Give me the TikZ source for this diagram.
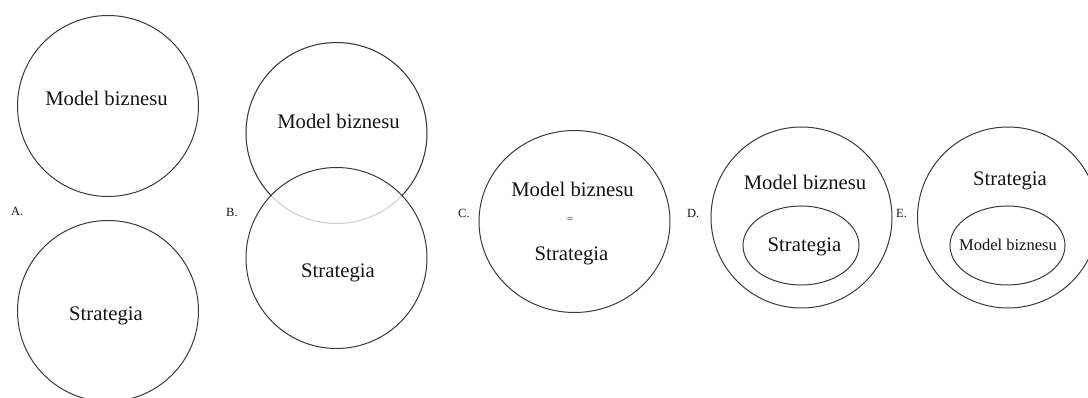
\documentclass[tikz,border=0pt]{standalone}
\usepackage{fontspec}
\setmainfont{Liberation Serif}
\usetikzlibrary{shapes.geometric}
\definecolor{ringcol}{HTML}{3A3A3A}
\definecolor{fadecol}{HTML}{CFCFCF}
\definecolor{inkcol}{HTML}{141414}
\begin{document}
\begin{tikzpicture}[x=1pt,y=-1pt,
  ring/.style={circle,draw=ringcol,line width=1pt,inner sep=0pt,minimum size=181pt},
  oval/.style={ellipse,draw=ringcol,line width=1pt,inner sep=0pt},
  big/.style={text=inkcol,anchor=base,inner sep=0pt,font=\fontsize{20.7}{24}\selectfont},
  mid/.style={text=inkcol,anchor=base,inner sep=0pt,font=\fontsize{16.5}{19}\selectfont},
  tag/.style={text=inkcol,anchor=base west,inner sep=0pt,font=\fontsize{12.5}{14}\selectfont},
  eq/.style={text=inkcol,inner sep=0pt,font=\fontsize{11}{12}\selectfont}]
\useasboundingbox[fill=white] (0,0) rectangle (1088,398);

% A: two separate circles
\node[ring] (a1) at (108,106) {};
\node[ring] (a2) at (108,311) {};
\node[big] (a1t) at (106.5,106) {Model biznesu};
\node[big] (a2t) at (106,320) {Strategia};
\node[tag] (al) at (11,216) {A.};

% B: overlapping circles, hidden arc of the upper one drawn faint
\node[ring,draw=fadecol] (b1) at (336.5,133) {};
\begin{scope}[even odd rule]
  \clip (0,0) rectangle (1088,398) (336.5,258) circle[radius=90.5];
  \draw[ringcol,line width=1pt] (b1.center) circle[radius=90.5];
\end{scope}
\node[ring] (b2) at (336.5,258) {};
\node[big] (b1t) at (338.5,129) {Model biznesu};
\node[big] (b2t) at (338,278) {Strategia};
\node[tag] (bl) at (226,217) {B.};

% C: one shape for both
\node[oval,minimum width=191pt,minimum height=182pt] (c1) at (574.5,221.5) {};
\node[big] (c1t) at (572.5,197) {Model biznesu};
\node[eq] (ceq) at (570,220) {=};
\node[big] (c2t) at (571.5,261) {Strategia};
\node[tag] (cl) at (458,218) {C.};

% D: strategy inside the business model
\node[ring] (d1) at (801.5,217.5) {};
\node[oval,minimum width=116pt,minimum height=79pt] (d2) at (801,245.5) {};
\node[big] (d1t) at (805,190) {Model biznesu};
\node[big] (d2t) at (804.5,252) {Strategia};
\node[tag] (dl) at (687,218) {D.};

% E: business model inside the strategy
\node[ring] (e1) at (1008,217.5) {};
\node[oval,minimum width=115pt,minimum height=79pt] (e2) at (1007.5,245.5) {};
\node[big] (e1t) at (1010,186) {Strategia};
\node[mid] (e2t) at (1008,251) {Model biznesu};
\node[tag] (el) at (896,218) {E.};
\end{tikzpicture}
\end{document}
